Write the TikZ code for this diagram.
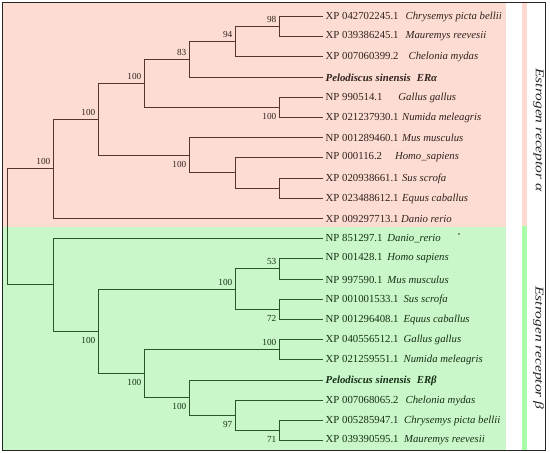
\documentclass[tikz,border=0pt]{standalone}
\usepackage{fontspec}
\setmainfont{Liberation Serif}
\usetikzlibrary{positioning, calc}
\definecolor{erapink}{RGB}{253,221,211}
\definecolor{erbgreen}{RGB}{201,247,201}
\definecolor{erastrip}{RGB}{255,216,208}
\definecolor{erbstrip}{RGB}{168,255,168}
\definecolor{eraline}{RGB}{84,54,46}
\definecolor{erbline}{RGB}{40,86,40}
\definecolor{eratext}{RGB}{48,34,30}
\definecolor{erbtext}{RGB}{22,48,22}
\newcommand{\leafsize}{\fontsize{10.8}{12}\selectfont}
\newcommand{\bssize}{\fontsize{9.3}{10}\selectfont}

\begin{document}
\begin{tikzpicture}[x=1bp, y=-1bp,
    leaf/.style={anchor=west, inner xsep=3pt, inner ysep=0pt, font=\leafsize},
    bsup/.style={anchor=south east, inner sep=0pt, xshift=-3pt, yshift=3.5pt, font=\bssize},
    bsdown/.style={anchor=north east, inner sep=0pt, xshift=-3pt, yshift=-6pt, font=\bssize},
    branch/.style={line width=1.5bp},
    sidelabel/.style={rotate=-90, font=\fontsize{12}{13}\selectfont\itshape, text=black!85}
]
    \useasboundingbox (0,0) rectangle (550,453);
    \fill[white] (0,0) rectangle (550,453);

    % === BACKGROUND ===
    \fill[erapink] (3,3) rectangle (506,227);
    \fill[erbgreen] (3,227) rectangle (506,449.5);
    \fill[erastrip] (522,3) rectangle (527,226);
    \fill[erbstrip] (522,226) rectangle (527,449.5);
    \draw[black!85, line width=1.6bp] (2.5,2.5) rectangle (545.5,450.5);

    % === LEAVES : ER alpha ===
    \begin{scope}[text=eratext]
    \node[leaf] (l0) at (322.5, 16.5) {XP 042702245.1\hspace{7pt}\textit{Chrysemys picta bellii}};
    \node[leaf] (l1) at (322.5, 36.5) {XP 039386245.1\hspace{7pt}\textit{Mauremys reevesii}};
    \node[leaf] (l2) at (322.5, 56.5) {XP 007060399.2\hspace{10pt}\textit{Chelonia mydas}};
    \node[leaf] (l3) at (322.5, 77.5) {\textbf{\textit{Pelodiscus sinensis\hspace{6pt}ERα}}};
    \node[leaf] (l4) at (322.5, 97.5) {NP 990514.1\hspace{16pt}\textit{Gallus gallus}};
    \node[leaf] (l5) at (322.5, 117.5) {XP 021237930.1\hspace{3.5pt}\textit{Numida meleagris}};
    \node[leaf] (l6) at (322.5, 137.5) {NP 001289460.1\hspace{3.5pt}\textit{Mus musculus}};
    \node[leaf] (l7) at (322.5, 157.5) {NP 000116.2\hspace{13pt}\textit{Homo\_sapiens}};
    \node[leaf] (l8) at (322.5, 178.5) {XP 020938661.1\hspace{3.5pt}\textit{Sus scrofa}};
    \node[leaf] (l9) at (322.5, 198.5) {XP 023488612.1\hspace{3.5pt}\textit{Equus caballus}};
    \node[leaf] (l10) at (322.5, 218.5) {XP 009297713.1\hspace{2.5pt}\textit{Danio rerio}};
    \end{scope}

    % === LEAVES : ER beta ===
    \begin{scope}[text=erbtext]
    \node[leaf] (l11) at (322.5, 238.5) {NP 851297.1\hspace{5pt}\textit{Danio\_rerio}};
    \node[leaf] (l12) at (322.5, 258.5) {NP 001428.1\hspace{5pt}\textit{Homo sapiens}};
    \node[leaf] (l13) at (322.5, 279.5) {NP 997590.1\hspace{5pt}\textit{Mus musculus}};
    \node[leaf] (l14) at (322.5, 299.5) {NP 001001533.1\hspace{5pt}\textit{Sus scrofa}};
    \node[leaf] (l15) at (322.5, 319.5) {NP 001296408.1\hspace{5pt}\textit{Equus caballus}};
    \node[leaf] (l16) at (322.5, 339.5) {XP 040556512.1\hspace{5pt}\textit{Gallus gallus}};
    \node[leaf] (l17) at (322.5, 359.5) {XP 021259551.1\hspace{5pt}\textit{Numida meleagris}};
    \node[leaf] (l18) at (322.5, 380.5) {\textbf{\textit{Pelodiscus sinensis\hspace{6pt}ERβ}}};
    \node[leaf] (l19) at (322.5, 400.5) {XP 007068065.2\hspace{7pt}\textit{Chelonia mydas}};
    \node[leaf] (l20) at (322.5, 420.5) {XP 005285947.1\hspace{5.5pt}\textit{Chrysemys picta bellii}};
    \node[leaf] (l21) at (322.5, 440.5) {XP 039390595.1\hspace{5.5pt}\textit{Mauremys reevesii}};
    \end{scope}

    % === INTERNAL NODES ===
    \coordinate (F) at (279.5, 26.5);
    \coordinate (E) at (235.5, 41.5);
    \coordinate (D) at (189.5, 59.5);
    \coordinate (G) at (279.5, 107.5);
    \coordinate (C) at (144.5, 83.5);
    \coordinate (J) at (279.5, 188.5);
    \coordinate (I) at (235.5, 172.5);
    \coordinate (H) at (189.5, 155.5);
    \coordinate (B) at (98.5, 119.5);
    \coordinate (A) at (53.5, 168.5);
    \coordinate (N) at (279.5, 268.5);
    \coordinate (O) at (279.5, 309.5);
    \coordinate (M) at (235.5, 289.5);
    \coordinate (Q) at (279.5, 349.5);
    \coordinate (T) at (279.5, 430.5);
    \coordinate (S) at (235.5, 415.5);
    \coordinate (R) at (189.5, 397.5);
    \coordinate (P) at (144.5, 373.5);
    \coordinate (L) at (98.5, 331.5);
    \coordinate (K) at (53.5, 284.5);
    \coordinate (root) at (7.5, 226.5);

    % === BRANCHES : ER alpha ===
    \draw[branch, eraline] (F) |- (l0.west) (F) |- (l1.west)
        (E) |- (F) (E) |- (l2.west)
        (D) |- (E) (D) |- (l3.west)
        (G) |- (l4.west) (G) |- (l5.west)
        (C) |- (D) (C) |- (G)
        (J) |- (l8.west) (J) |- (l9.west)
        (I) |- (l7.west) (I) |- (J)
        (H) |- (l6.west) (H) |- (I)
        (B) |- (C) (B) |- (H)
        (A) |- (B) (A) |- (l10.west)
        (root) |- (A);

    % === BRANCHES : ER beta ===
    \draw[branch, erbline] (N) |- (l12.west) (N) |- (l13.west)
        (O) |- (l14.west) (O) |- (l15.west)
        (M) |- (N) (M) |- (O)
        (Q) |- (l16.west) (Q) |- (l17.west)
        (T) |- (l20.west) (T) |- (l21.west)
        (S) |- (l19.west) (S) |- (T)
        (R) |- (l18.west) (R) |- (S)
        (P) |- (Q) (P) |- (R)
        (L) |- (M) (L) |- (P)
        (K) |- (l11.west) (K) |- (L)
        (root) |- (K);

    % === BOOTSTRAP VALUES ===
    \begin{scope}[text=eratext]
    \node[bsup] (bF) at (F) {98};
    \node[bsup] (bE) at (E) {94};
    \node[bsup] (bD) at (D) {83};
    \node[bsup] (bC) at (C) {100};
    \node[bsup] (bB) at (B) {100};
    \node[bsup] (bA) at (A) {100};
    \node[bsdown] (bG) at (G) {100};
    \node[bsdown] (bH) at (H) {100};
    \end{scope}
    \begin{scope}[text=erbtext]
    \node[bsup] (bN) at (N) {53};
    \node[bsup] (bM) at (M) {100};
    \node[bsup] (bQ) at (Q) {100};
    \node[bsdown] (bO) at (O) {72};
    \node[bsdown] (bL) at (L) {100};
    \node[bsdown] (bP) at (P) {100};
    \node[bsdown] (bR) at (R) {100};
    \node[bsdown] (bS) at (S) {97};
    \node[bsdown] (bT) at (T) {71};
    \end{scope}

    % stray mark after Danio_rerio
    \fill[black!80] (459,234) circle (0.8bp);

    % === SIDE LABELS ===
    \node[sidelabel] (alpha) at (538.5, 130) {\scalebox{1.3}[1]{Estrogen receptor α}};
    \node[sidelabel] (beta) at (538.5, 348) {\scalebox{1.3}[1]{Estrogen receptor β}};

\end{tikzpicture}
\end{document}
